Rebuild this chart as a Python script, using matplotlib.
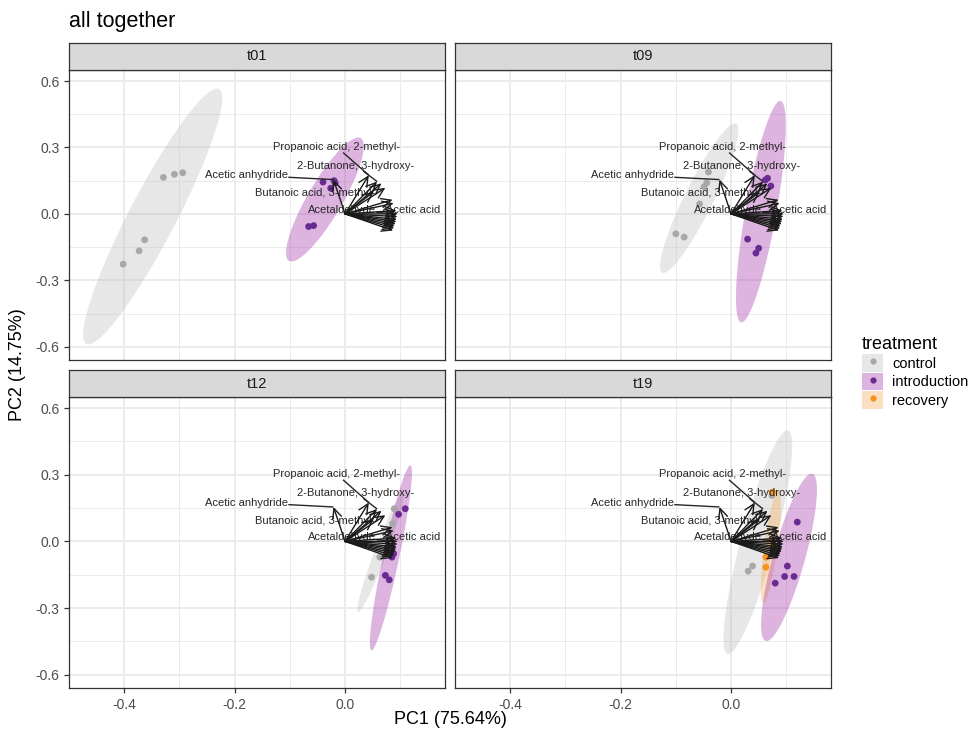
import numpy as np
import matplotlib
matplotlib.use("Agg")
import matplotlib.pyplot as plt
from matplotlib.patches import Polygon, Rectangle, FancyArrowPatch, Patch
from matplotlib.lines import Line2D
from matplotlib.legend_handler import HandlerTuple

plt.rcParams['font.family'] = ['Liberation Sans', 'DejaVu Sans']

# ---------------------------------------------------------------- data
times = ["t01", "t09", "t12", "t19"]
treatments = ["control", "introduction", "recovery"]

# PCA scores for each sample
score_time = (["t01"] * 12 + ["t09"] * 12 + ["t12"] * 10 + ["t19"] * 12)
score_treatment = (["control"] * 6 + ["introduction"] * 6
                   + ["control"] * 6 + ["introduction"] * 6
                   + ["control"] * 4 + ["introduction"] * 6
                   + ["control"] * 3 + ["recovery"] * 4 + ["introduction"] * 5)
score_pc1 = [-0.329, -0.309, -0.294, -0.363, -0.373, -0.402,
             -0.040, -0.020, -0.018, -0.026, -0.066, -0.057,
             -0.041, -0.049, -0.044, -0.057, -0.100, -0.085,
             0.062, 0.066, 0.072, 0.030, 0.050, 0.045,
             0.089, 0.086, 0.063, 0.048,
             0.097, 0.109, 0.085, 0.088, 0.073, 0.080,
             0.031, 0.039, 0.074,
             0.063, 0.063, 0.075, 0.074,
             0.120, 0.102, 0.097, 0.114, 0.080]
score_pc2 = [0.165, 0.179, 0.186, -0.117, -0.167, -0.227,
             0.144, 0.150, 0.140, 0.116, -0.057, -0.053,
             0.189, 0.123, 0.140, 0.045, -0.090, -0.105,
             0.153, 0.161, 0.126, -0.114, -0.155, -0.177,
             0.147, 0.080, -0.071, -0.161,
             0.122, 0.147, -0.071, -0.055, -0.153, -0.173,
             -0.134, -0.111, 0.207,
             -0.071, -0.116, 0.222, -0.003,
             0.087, -0.111, -0.158, -0.158, -0.188]

# 95% normal-theory ellipses per time point and treatment:
# centre, half-extent along PC1 / PC2 and correlation
ell_time = ["t01", "t01", "t09", "t09", "t12", "t12", "t19", "t19", "t19"]
ell_treatment = ["control", "introduction", "control", "introduction",
                 "control", "introduction", "control", "recovery", "introduction"]
ell_cx = [-0.3485, -0.0365, -0.0577, 0.054, 0.0645, 0.083, 0.0485, 0.072, 0.105]
ell_cy = [-0.012, 0.065, 0.071, 0.010, -0.049, -0.0745, -0.003, -0.024, -0.072]
ell_hx = [0.126, 0.0704, 0.0711, 0.0451, 0.0422, 0.0381, 0.0623, 0.0182, 0.0506]
ell_hy = [0.578, 0.280, 0.338, 0.500, 0.269, 0.4165, 0.503, 0.254, 0.377]
ell_r = [0.925, 0.86, 0.913, 0.776, 0.959, 0.919, 0.859, 0.75, 0.806]

# variable loadings (scaled to score space)
loading_pc1 = [-0.021, 0.043, 0.058, 0.066, 0.073, 0.052, 0.086, 0.088,
               0.093, 0.094, 0.095, 0.094, 0.093, 0.092, 0.090, 0.089, 0.087]
loading_pc2 = [0.155, 0.175, 0.146, 0.138, 0.118, 0.100, 0.064, 0.048,
               0.015, 0.000, -0.012, -0.025, -0.035, -0.045, -0.055, -0.065, -0.075]
loading_label = ["Acetic anhydride", "Propanoic acid, 2-methyl-",
                 "2-Butanone, 3-hydroxy-", "", "", "Butanoic acid, 3-methyl-",
                 "", "", "Acetic acid", "Acetaldehyde", "", "", "", "", "", "", ""]

x_label = "PC1 (75.64%)"
y_label = "PC2 (14.75%)"
title = "all together"

# ---------------------------------------------------------------- styles
point_colors = {"control": "#A8A8A8", "introduction": "#6A2C93", "recovery": "#F7931E"}
fill_colors = {"control": "#BDBDBD", "introduction": "#9E29A6", "recovery": "#F9A64B"}
fill_alpha = 0.35

# repelled label placement (data units)
label_pos = {
    "Acetic anhydride": (-0.178, 0.175),
    "Propanoic acid, 2-methyl-": (-0.015, 0.302),
    "2-Butanone, 3-hydroxy-": (0.020, 0.218),
    "Butanoic acid, 3-methyl-": (-0.054, 0.094),
    "Acetic acid": (0.124, 0.019),
    "Acetaldehyde": (-0.005, 0.019),
}

W, H = 970, 731
fig = plt.figure(figsize=(W / 100, H / 100), dpi=100)

panel_px = {
    "t01": (69, 70, 445, 360),
    "t09": (455, 70, 831, 360),
    "t12": (69, 397, 445, 688),
    "t19": (455, 397, 831, 688),
}
strip_h = 27
xlim = (-0.5, 0.181)
ylim = (-0.66, 0.65)

border = "#333333"
grid_col = "#EBEBEB"

score_time = np.array(score_time)
score_treatment = np.array(score_treatment)
score_pc1 = np.array(score_pc1)
score_pc2 = np.array(score_pc2)

renderer = fig.canvas.get_renderer()

for t in times:
    x0, y0, x1, y1 = panel_px[t]
    ax = fig.add_axes([x0 / W, 1 - y1 / H, (x1 - x0) / W, (y1 - y0) / H])
    ax.set_xlim(*xlim)
    ax.set_ylim(*ylim)
    ax.set_facecolor("white")
    for s in ax.spines.values():
        s.set_color(border)
        s.set_linewidth(0.9)
        s.set_zorder(10)

    # grid
    for gx in [-0.5, -0.3, -0.1, 0.1]:
        ax.axvline(gx, color=grid_col, lw=0.7, zorder=0)
    for gy in [-0.45, -0.15, 0.15, 0.45]:
        ax.axhline(gy, color=grid_col, lw=0.7, zorder=0)
    for gx in [-0.4, -0.2, 0.0]:
        ax.axvline(gx, color=grid_col, lw=1.4, zorder=0)
    for gy in [-0.6, -0.3, 0.0, 0.3, 0.6]:
        ax.axhline(gy, color=grid_col, lw=1.4, zorder=0)

    ax.set_xticks([-0.4, -0.2, 0.0])
    ax.set_yticks([-0.6, -0.3, 0.0, 0.3, 0.6])
    ax.tick_params(colors=border, labelcolor="#4D4D4D", labelsize=10,
                   length=3.5, width=0.9)
    if t in ("t01", "t12"):
        ax.set_yticklabels(["-0.6", "-0.3", "0.0", "0.3", "0.6"])
    else:
        ax.tick_params(axis="y", left=False, labelleft=False)
    if t in ("t12", "t19"):
        ax.set_xticklabels(["-0.4", "-0.2", "0.0"])
    else:
        ax.tick_params(axis="x", bottom=False, labelbottom=False)

    # ellipses
    tt = np.linspace(0, 2 * np.pi, 200)
    for i in range(len(ell_time)):
        if ell_time[i] != t:
            continue
        phi = np.arccos(ell_r[i])
        ex = ell_cx[i] + ell_hx[i] * np.cos(tt)
        ey = ell_cy[i] + ell_hy[i] * np.cos(tt - phi)
        ax.add_patch(Polygon(np.column_stack([ex, ey]), closed=True,
                             facecolor=fill_colors[ell_treatment[i]],
                             alpha=fill_alpha, edgecolor="none", zorder=1))

    # scores
    for tr in treatments:
        m = (score_time == t) & (score_treatment == tr)
        if m.any():
            ax.scatter(score_pc1[m], score_pc2[m], s=24, color=point_colors[tr],
                       edgecolors="none", zorder=3)

    # loading labels with repel segments
    for i, lab in enumerate(loading_label):
        if not lab:
            continue
        lx, ly = label_pos[lab]
        txt = ax.text(lx, ly, lab, ha="center", va="center", fontsize=8,
                      color="#262626", zorder=4)
        bb = txt.get_window_extent(renderer=renderer).expanded(1.0, 1.1)
        tip = ax.transData.transform((loading_pc1[i], loading_pc2[i]))
        c = np.array([(bb.x0 + bb.x1) / 2, (bb.y0 + bb.y1) / 2])
        if bb.x0 <= tip[0] <= bb.x1 and bb.y0 <= tip[1] <= bb.y1:
            continue
        d = tip - c
        sx = (bb.width / 2) / abs(d[0]) if d[0] != 0 else np.inf
        sy = (bb.height / 2) / abs(d[1]) if d[1] != 0 else np.inf
        start = c + d * min(sx, sy)
        if np.hypot(*(tip - start)) < 5:
            continue
        p0 = ax.transData.inverted().transform(start)
        ax.plot([p0[0], loading_pc1[i]], [p0[1], loading_pc2[i]],
                color="#262626", lw=1.0, zorder=5, solid_capstyle="butt")

    # loading arrows
    for lx, ly in zip(loading_pc1, loading_pc2):
        ax.add_patch(FancyArrowPatch((0, 0), (lx, ly),
                                     arrowstyle="->,head_length=0.7,head_width=0.33",
                                     mutation_scale=10, color="#1A1A1A",
                                     lw=1.0, shrinkA=0, shrinkB=0, zorder=6))

    # strip
    sax = fig.add_axes([x0 / W, 1 - y0 / H, (x1 - x0) / W, strip_h / H])
    sax.add_patch(Rectangle((0, 0), 1, 1, transform=sax.transAxes,
                            facecolor="#D9D9D9", edgecolor="none"))
    sax.set_xticks([])
    sax.set_yticks([])
    for s in sax.spines.values():
        s.set_color(border)
        s.set_linewidth(0.9)
    sax.text(0.5, 0.5, t, ha="center", va="center", fontsize=10.5,
             color="#1A1A1A", transform=sax.transAxes)

# axis titles and title
fig.text(450 / W, 1 - 719 / H, x_label, ha="center", va="center", fontsize=13)
fig.text(18 / W, 1 - 365 / H, y_label, ha="center", va="center",
         fontsize=13, rotation=90)
fig.text(69 / W, 1 - 21 / H, title, ha="left", va="center", fontsize=15.5)

# legend: ellipse fill key with the point drawn on top
handles = []
for tr in treatments:
    handles.append((Patch(facecolor=fill_colors[tr], alpha=fill_alpha, edgecolor="none"),
                    Line2D([], [], marker="o", linestyle="none", markersize=4.5,
                           markerfacecolor=point_colors[tr], markeredgecolor="none")))
leg = fig.legend(handles, treatments, handler_map={tuple: HandlerTuple(ndivide=1, pad=0)},
                 loc="upper left", bbox_to_anchor=(852 / W, 1 - 326 / H),
                 frameon=False, title="treatment", fontsize=10.5,
                 title_fontsize=13, handlelength=1.45, handleheight=1.45,
                 labelspacing=0.08, handletextpad=0.6, borderpad=0.2,
                 alignment="left")

fig.savefig("out.png", dpi=100)
